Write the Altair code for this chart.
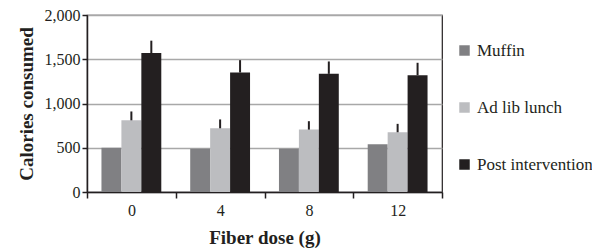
import altair as alt
import pandas as pd

doses = ["0", "4", "8", "12"]
series = ["Muffin", "Ad lib lunch", "Post intervention"]
muffin = [500, 490, 490, 540]
lunch = [810, 720, 705, 675]
post = [1570, 1350, 1335, 1320]
lunch_err_top = [910, 820, 800, 770]
post_err_top = [1710, 1490, 1475, 1460]
colors = ["#808083", "#bcbdc0", "#231f20"]

rows = []
for i, d in enumerate(doses):
    rows.append({"dose": d, "series": series[0], "value": muffin[i], "upper": None})
    rows.append({"dose": d, "series": series[1], "value": lunch[i], "upper": lunch_err_top[i]})
    rows.append({"dose": d, "series": series[2], "value": post[i], "upper": post_err_top[i]})
df = pd.DataFrame(rows)

font = "Liberation Serif, Times New Roman, serif"

x = alt.X("dose:N", sort=doses, title="Fiber dose (g)",
          scale=alt.Scale(paddingInner=0, paddingOuter=0),
          axis=alt.Axis(labelAngle=0, tickBand="extent", tickSize=6, titlePadding=10,
                        labelPadding=4))
xo = alt.XOffset("series:N", sort=series,
                 scale=alt.Scale(paddingInner=0, paddingOuter=0.725))

bars = alt.Chart(df).mark_bar().encode(
    x=x,
    xOffset=xo,
    y=alt.Y("value:Q", title="Calories consumed",
            scale=alt.Scale(domain=[0, 2000]),
            axis=alt.Axis(values=list(range(0, 2001, 250)), format=",.0f", tickSize=5,
                          titlePadding=8, labelPadding=2)),
    color=alt.Color("series:N", sort=series,
                    scale=alt.Scale(domain=series, range=colors),
                    legend=alt.Legend(title=None, orient="none", legendX=369, legendY=27,
                                      symbolType="square", symbolSize=110,
                                      symbolStrokeWidth=0, rowPadding=39,
                                      labelFont=font, labelFontSize=17,
                                      labelColor="#231f20", labelOffset=4)),
)

errs = alt.Chart(df).transform_filter("datum.upper != null").mark_rule(
    color="#231f20", strokeWidth=2
).encode(
    x=x,
    xOffset=xo,
    y="value:Q",
    y2="upper:Q",
)

chart = alt.layer(bars, errs).properties(
    width=355, height=177,
    autosize=alt.AutoSizeParams(type="none"),
    padding={"left": 79, "top": 7, "right": 150, "bottom": 60},
).configure(
    font=font
).configure_view(
    stroke="#231f20", strokeWidth=1.2
).configure_axis(
    labelFont=font, labelFontSize=16, labelColor="#231f20",
    titleFont=font, titleFontSize=19, titleFontWeight="bold", titleColor="#231f20",
    domainColor="#231f20", tickColor="#231f20", domainWidth=1.5, tickWidth=1.5,
    gridColor="#a8a8a8", gridWidth=1.5,
).configure_axisX(grid=False).configure_axisY(grid=True)

chart.save("out.html", embed_options={"renderer": "svg", "actions": False})
